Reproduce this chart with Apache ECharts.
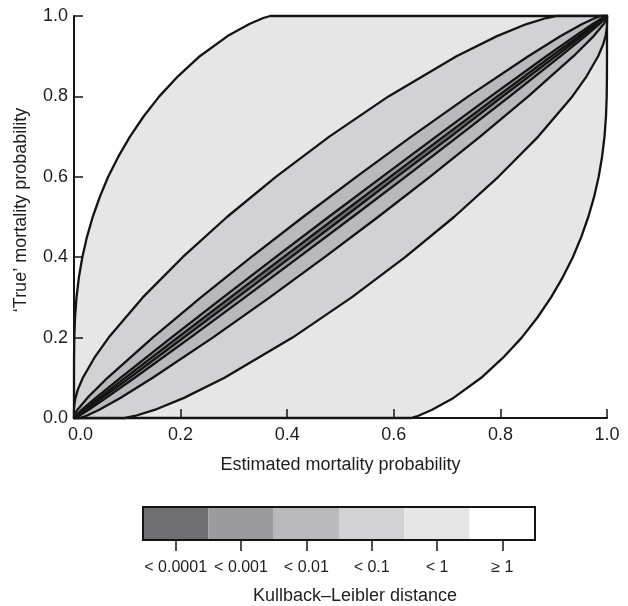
<!DOCTYPE html>
<html>
<head>
<meta charset="utf-8">
<script src="https://cdn.jsdelivr.net/npm/echarts@6/dist/echarts.min.js"></script>
<style>
  html, body { margin: 0; padding: 0; background: #fff; }
  #chart { width: 628px; height: 606px; }
</style>
</head>
<body>
<div id="chart"></div>
<script>
// Tick values of both axes
const xTicks = [0, 0.2, 0.4, 0.6, 0.8, 1.0];
const yTicks = [0, 0.2, 0.4, 0.6, 0.8, 1.0];

// Colour-bar categories (Kullback-Leibler distance bands)
const bandLabels = ['< 0.0001', '< 0.001', '< 0.01', '< 0.1', '< 1', '\u2265 1'];
const bandColors = ['#6f6f71', '#9b9b9d', '#b9b9bb', '#d2d2d4', '#e6e6e6', '#ffffff'];

// Contour boundaries: [estimated, true] pairs
// KL = 1
const kl1Upper = [[0,0],[0,0.1],[0.0001,0.15],[0.00055,0.2],[0.0019,0.25],[0.0047,0.3],[0.0092,0.35],[0.0156,0.4],[0.0242,0.45],[0.0351,0.5],[0.0484,0.55],[0.0641,0.6],[0.0831,0.65],[0.105,0.7],[0.1305,0.75],[0.160,0.8],[0.195,0.85],[0.236,0.9],[0.288,0.95],[0.329,0.98],[0.355,0.995],[0.368,1]];
const kl1Lower = [[0.632,0],[0.645,0.005],[0.671,0.02],[0.712,0.05],[0.764,0.1],[0.805,0.15],[0.840,0.2],[0.8695,0.25],[0.895,0.3],[0.9169,0.35],[0.9359,0.4],[0.9516,0.45],[0.9649,0.5],[0.9758,0.55],[0.9844,0.6],[0.9908,0.65],[0.9953,0.7],[0.9981,0.75],[0.99945,0.8],[0.9999,0.85],[1,0.9],[1,1]];
// KL = 0.1
const kl01Upper = [[0,0],[0,0.01],[0.00005,0.02],[0.0004,0.03],[0.0027,0.05],[0.007,0.07],[0.0166,0.1],[0.0383,0.15],[0.065,0.2],[0.129,0.3],[0.2038,0.4],[0.287,0.5],[0.3787,0.6],[0.479,0.7],[0.59,0.8],[0.7176,0.9],[0.7936,0.95],[0.849,0.98],[0.886,0.995],[0.9048,1]];
const kl01Lower = [[0.0952,0],[0.114,0.005],[0.151,0.02],[0.2064,0.05],[0.2824,0.1],[0.41,0.2],[0.521,0.3],[0.6213,0.4],[0.713,0.5],[0.7962,0.6],[0.871,0.7],[0.935,0.8],[0.9617,0.85],[0.9834,0.9],[0.993,0.93],[0.9973,0.95],[0.9996,0.97],[0.99995,0.98],[1,0.99],[1,1]];
// KL = 0.01
const kl001Upper = [[0,0],[0.00026,0.005],[0.00159,0.01],[0.0061,0.02],[0.025,0.05],[0.0629,0.1],[0.1477,0.2],[0.2381,0.3],[0.3324,0.4],[0.4296,0.5],[0.5297,0.6],[0.6328,0.7],[0.7397,0.8],[0.8523,0.9],[0.9131,0.95],[0.9535,0.98],[0.9777,0.995],[0.99005,1]];
const kl001Lower = [[0.00995,0],[0.0223,0.005],[0.0465,0.02],[0.0869,0.05],[0.1477,0.1],[0.2603,0.2],[0.3672,0.3],[0.4703,0.4],[0.5704,0.5],[0.6676,0.6],[0.7619,0.7],[0.8523,0.8],[0.9371,0.9],[0.975,0.95],[0.9939,0.98],[0.99841,0.99],[0.99974,0.995],[1,1]];
// KL = 0.001
const kl0001Upper = [[0,0],[0.0006,0.002],[0.00247,0.005],[0.00618,0.01],[0.01436,0.02],[0.0408,0.05],[0.0871,0.1],[0.1825,0.2],[0.2798,0.3],[0.3782,0.4],[0.4776,0.5],[0.578,0.6],[0.6793,0.7],[0.7817,0.8],[0.8861,0.9],[0.9397,0.95],[0.9731,0.98],[0.9912,0.995],[0.999,1]];
const kl0001Lower = [[0.001,0],[0.0088,0.005],[0.0269,0.02],[0.0603,0.05],[0.1139,0.1],[0.2183,0.2],[0.3207,0.3],[0.422,0.4],[0.5224,0.5],[0.6218,0.6],[0.7202,0.7],[0.8175,0.8],[0.9129,0.9],[0.9592,0.95],[0.98564,0.98],[0.99382,0.99],[0.99753,0.995],[0.9994,0.998],[1,1]];
// KL = 0.0001
const kl00001Upper = [[0,0],[0.00143,0.002],[0.00407,0.005],[0.00865,0.01],[0.01808,0.02],[0.047,0.05],[0.0958,0.1],[0.1944,0.2],[0.2935,0.3],[0.3931,0.4],[0.4929,0.5],[0.5931,0.6],[0.6935,0.7],[0.7943,0.8],[0.8957,0.9],[0.94686,0.95],[0.97796,0.98],[0.99393,0.995],[0.9999,1]];
const kl00001Lower = [[0.0001,0],[0.00607,0.005],[0.02204,0.02],[0.05314,0.05],[0.1043,0.1],[0.2057,0.2],[0.3065,0.3],[0.4069,0.4],[0.5071,0.5],[0.6056,0.6],[0.7065,0.7],[0.8042,0.8],[0.9042,0.9],[0.953,0.95],[0.98192,0.98],[0.99135,0.99],[0.99593,0.995],[0.99857,0.998],[1,1]];

const regions = [
  { upper: kl1Upper, lower: kl1Lower, color: bandColors[4] },
  { upper: kl01Upper, lower: kl01Lower, color: bandColors[3] },
  { upper: kl001Upper, lower: kl001Lower, color: bandColors[2] },
  { upper: kl0001Upper, lower: kl0001Lower, color: bandColors[1] },
  { upper: kl00001Upper, lower: kl00001Lower, color: bandColors[0] }
];

const FONT = '"Liberation Sans", Arial, Helvetica, sans-serif';
const TXT = '#1e1e1e';
const INK = '#141414';

const chart = echarts.init(document.getElementById('chart'), null, { renderer: 'canvas' });

const regionSeries = regions.map(function (r, i) {
  const poly = r.upper.concat(r.lower.slice().reverse());
  return {
    type: 'custom',
    name: 'region' + i,
    xAxisIndex: 0,
    yAxisIndex: 0,
    silent: true,
    z: 2 + i,
    data: [[0, 0]],
    renderItem: function (params, api) {
      const pts = poly.map(function (p) { return api.coord(p); });
      return {
        type: 'polygon',
        shape: { points: pts },
        style: { fill: r.color, stroke: INK, lineWidth: 2.3, lineJoin: 'round' }
      };
    }
  };
});

const option = {
  animation: false,
  backgroundColor: '#fff',
  textStyle: { fontFamily: FONT },
  grid: [
    { left: 74, right: 21, top: 16, bottom: 188 },
    { left: 143, width: 392, top: 507, height: 34, show: true, borderColor: INK, borderWidth: 2, backgroundColor: 'transparent', z: 20 }
  ],
  xAxis: [
    {
      type: 'value', gridIndex: 0, min: xTicks[0], max: xTicks[xTicks.length - 1], interval: 0.2, z: 10,
      axisLine: { onZero: false, lineStyle: { color: INK, width: 2 } },
      axisTick: { inside: true, length: 9, lineStyle: { color: INK, width: 1.5 } },
      splitLine: { show: false },
      axisLabel: {
        fontSize: 18, color: TXT, margin: 8, fontFamily: FONT,
        formatter: function (v) { return v === 0 ? '{z|' + v.toFixed(1) + '}' : v.toFixed(1); },
        rich: { z: { fontSize: 18, color: TXT, fontFamily: FONT, padding: [0, 0, 0, 13] } }
      },
      name: 'Estimated mortality probability', nameLocation: 'middle', nameGap: 38,
      nameTextStyle: { fontSize: 18, color: TXT, fontFamily: FONT }
    },
    {
      type: 'category', gridIndex: 1, data: bandLabels, z: 10,
      axisLine: { show: true, lineStyle: { color: INK, width: 2 } },
      axisTick: { show: true, alignWithLabel: true, length: 11, lineStyle: { color: INK, width: 1.5 } },
      axisLabel: { interval: 0, fontSize: 16, color: TXT, margin: 20, fontFamily: FONT },
      splitLine: { show: false },
      name: 'Kullback\u2013Leibler distance', nameLocation: 'middle', nameGap: 47,
      nameTextStyle: { fontSize: 18, color: TXT, fontFamily: FONT, padding: [0, 0, 0, 32] }
    }
  ],
  yAxis: [
    {
      type: 'value', gridIndex: 0, min: yTicks[0], max: yTicks[yTicks.length - 1], interval: 0.2, z: 10,
      axisLine: { show: true, onZero: false, lineStyle: { color: INK, width: 2 } },
      axisTick: { show: true, inside: true, length: 9, lineStyle: { color: INK, width: 1.5 } },
      splitLine: { show: false },
      axisLabel: { fontSize: 18, color: TXT, margin: 6, fontFamily: FONT, formatter: function (v) { return v.toFixed(1); } },
      name: '\u2018True\u2019 mortality probability', nameLocation: 'middle', nameGap: 44,
      nameTextStyle: { fontSize: 18, color: TXT, fontFamily: FONT, padding: [0, 0, 0, 14] }
    },
    { type: 'value', gridIndex: 1, min: 0, max: 1, show: false }
  ],
  series: regionSeries.concat([
    {
      type: 'bar', xAxisIndex: 1, yAxisIndex: 1, silent: true,
      barCategoryGap: '0%',
      data: bandLabels.map(function (lab, i) { return { value: 1, itemStyle: { color: bandColors[i] } }; })
    }
  ])
};

chart.setOption(option);
</script>
</body>
</html>
